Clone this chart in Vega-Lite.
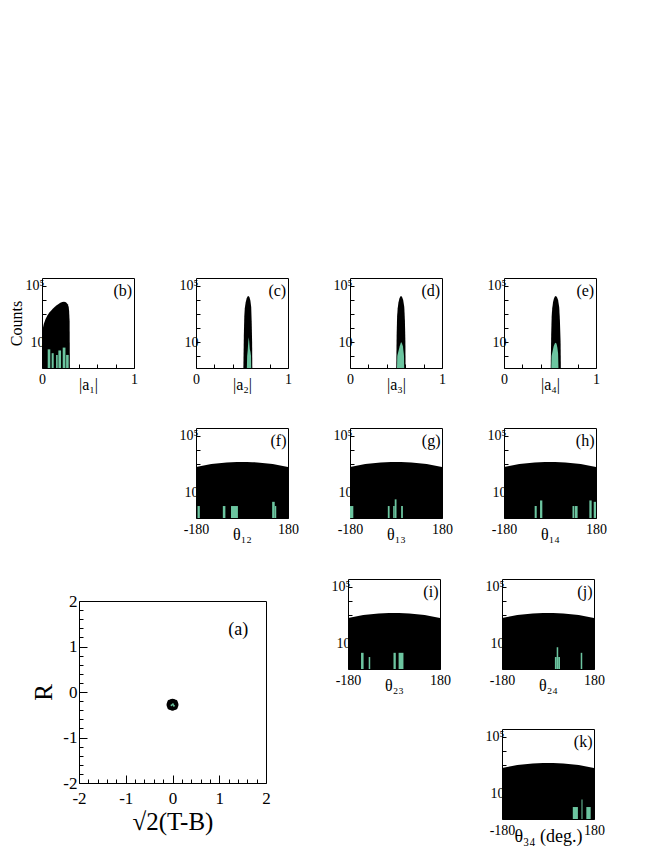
{
"$schema": "https://vega.github.io/schema/vega-lite/v6.json",
"padding": {"left": 7, "top": 277, "right": 5, "bottom": 5},
"config": {
  "font": "Liberation Serif",
  "view": {"stroke": "black", "strokeWidth": 1},
  "axis": {"domain": false, "grid": false, "tickColor": "black", "tickSize": -4, "labelColor": "black", "titleColor": "black", "labelFontSize": 14, "titleFontSize": 16, "titleFontWeight": "normal", "labelFont": "Liberation Serif", "titleFont": "Liberation Serif", "labelPadding": 2, "labelFlush": false},
  "text": {"font": "Liberation Serif", "color": "black"}
},
"datasets": {
  "blackA": [
    {"panel":"b","x":0,"n":32},{"panel":"b","x":0.01,"n":100},{"panel":"b","x":0.02,"n":200},{"panel":"b","x":0.04,"n":450},{"panel":"b","x":0.06,"n":800},{"panel":"b","x":0.08,"n":1260},{"panel":"b","x":0.1,"n":1780},{"panel":"b","x":0.12,"n":2500},{"panel":"b","x":0.14,"n":3300},{"panel":"b","x":0.16,"n":4270},{"panel":"b","x":0.18,"n":5250},{"panel":"b","x":0.2,"n":6300},{"panel":"b","x":0.22,"n":7240},{"panel":"b","x":0.24,"n":7600},{"panel":"b","x":0.26,"n":6900},{"panel":"b","x":0.28,"n":5000},{"panel":"b","x":0.29,"n":3160},{"panel":"b","x":0.295,"n":1580},{"panel":"b","x":0.3,"n":316},{"panel":"b","x":0.303,"n":0.14},
    {"panel":"c","x":0.515,"n":0.14},{"panel":"c","x":0.52,"n":30},{"panel":"c","x":0.525,"n":630},{"panel":"c","x":0.53,"n":2500},{"panel":"c","x":0.54,"n":7000},{"panel":"c","x":0.55,"n":12600},{"panel":"c","x":0.56,"n":17800},{"panel":"c","x":0.57,"n":19000},{"panel":"c","x":0.58,"n":16600},{"panel":"c","x":0.59,"n":10000},{"panel":"c","x":0.6,"n":3160},{"panel":"c","x":0.605,"n":316},{"panel":"c","x":0.61,"n":10},{"panel":"c","x":0.612,"n":0.14},
    {"panel":"d","x":0.503,"n":0.14},{"panel":"d","x":0.507,"n":30},{"panel":"d","x":0.512,"n":630},{"panel":"d","x":0.518,"n":2500},{"panel":"d","x":0.527,"n":7000},{"panel":"d","x":0.537,"n":12600},{"panel":"d","x":0.547,"n":17800},{"panel":"d","x":0.556,"n":19000},{"panel":"d","x":0.566,"n":16600},{"panel":"d","x":0.578,"n":10000},{"panel":"d","x":0.59,"n":3160},{"panel":"d","x":0.597,"n":316},{"panel":"d","x":0.602,"n":10},{"panel":"d","x":0.604,"n":0.14},
    {"panel":"e","x":0.508,"n":0.14},{"panel":"e","x":0.513,"n":30},{"panel":"e","x":0.518,"n":630},{"panel":"e","x":0.524,"n":2500},{"panel":"e","x":0.533,"n":7000},{"panel":"e","x":0.543,"n":12600},{"panel":"e","x":0.553,"n":17800},{"panel":"e","x":0.564,"n":19000},{"panel":"e","x":0.575,"n":16600},{"panel":"e","x":0.588,"n":10000},{"panel":"e","x":0.6,"n":3160},{"panel":"e","x":0.608,"n":316},{"panel":"e","x":0.615,"n":10},{"panel":"e","x":0.618,"n":0.14}
  ],
  "greenA": [
    {"panel":"c","x":0.553,"n":0.14},{"panel":"c","x":0.556,"n":1},{"panel":"c","x":0.562,"n":2.5},{"panel":"c","x":0.568,"n":10},{"panel":"c","x":0.573,"n":22},{"panel":"c","x":0.578,"n":12},{"panel":"c","x":0.585,"n":3},{"panel":"c","x":0.592,"n":2},{"panel":"c","x":0.598,"n":1},{"panel":"c","x":0.6,"n":0.14},
    {"panel":"d","x":0.511,"n":0.14},{"panel":"d","x":0.514,"n":1},{"panel":"d","x":0.525,"n":2},{"panel":"d","x":0.54,"n":5},{"panel":"d","x":0.55,"n":8},{"panel":"d","x":0.556,"n":10},{"panel":"d","x":0.565,"n":8},{"panel":"d","x":0.575,"n":5},{"panel":"d","x":0.582,"n":2},{"panel":"d","x":0.587,"n":1},{"panel":"d","x":0.589,"n":0.14},
    {"panel":"e","x":0.514,"n":0.14},{"panel":"e","x":0.517,"n":1},{"panel":"e","x":0.527,"n":2},{"panel":"e","x":0.54,"n":5},{"panel":"e","x":0.552,"n":8},{"panel":"e","x":0.56,"n":9},{"panel":"e","x":0.57,"n":8},{"panel":"e","x":0.58,"n":4},{"panel":"e","x":0.588,"n":1.5},{"panel":"e","x":0.592,"n":0.14}
  ],
  "greenBars": [
    {"panel":"b","x0":0.062,"x1":0.09,"n":3},{"panel":"b","x0":0.105,"x1":0.127,"n":1.6},{"panel":"b","x0":0.153,"x1":0.171,"n":1.2},{"panel":"b","x0":0.178,"x1":0.207,"n":2.5},{"panel":"b","x0":0.225,"x1":0.255,"n":4},{"panel":"b","x0":0.262,"x1":0.29,"n":1.2},
    {"panel":"f","x0":-174,"x1":-165,"n":1},{"panel":"f","x0":-75,"x1":-65,"n":1},{"panel":"f","x0":-43,"x1":-16,"n":1},{"panel":"f","x0":118,"x1":128,"n":2},{"panel":"f","x0":128,"x1":134,"n":1},
    {"panel":"g","x0":-180,"x1":-167,"n":1},{"panel":"g","x0":-32,"x1":-25,"n":1},{"panel":"g","x0":-11,"x1":-5,"n":1},{"panel":"g","x0":-5,"x1":2,"n":3},{"panel":"g","x0":20,"x1":27,"n":1},
    {"panel":"h","x0":-60,"x1":-52,"n":1},{"panel":"h","x0":-39,"x1":-30,"n":2.5},{"panel":"h","x0":88,"x1":95,"n":1},{"panel":"h","x0":97,"x1":108,"n":1},{"panel":"h","x0":154,"x1":163,"n":2.5},{"panel":"h","x0":171,"x1":180,"n":2},
    {"panel":"i","x0":-129,"x1":-119,"n":2},{"panel":"i","x0":-99,"x1":-93,"n":1},{"panel":"i","x0":-2,"x1":7,"n":2},{"panel":"i","x0":18,"x1":37,"n":2},
    {"panel":"j","x0":27,"x1":34,"n":1},{"panel":"j","x0":34,"x1":40,"n":5},{"panel":"j","x0":40,"x1":47,"n":1},{"panel":"j","x0":128,"x1":134,"n":2},
    {"panel":"k","x0":97,"x1":117,"n":1},{"panel":"k","x0":131,"x1":135,"n":3.5},{"panel":"k","x0":150,"x1":167,"n":1}
  ],
  "blackT": [
    {"t":-180,"n":600},{"t":-160,"n":725},{"t":-140,"n":850},{"t":-120,"n":980},{"t":-100,"n":1100},{"t":-80,"n":1200},{"t":-60,"n":1290},{"t":-40,"n":1350},{"t":-20,"n":1380},{"t":0,"n":1400},{"t":20,"n":1380},{"t":40,"n":1350},{"t":60,"n":1290},{"t":80,"n":1200},{"t":100,"n":1100},{"t":120,"n":980},{"t":140,"n":850},{"t":160,"n":725},{"t":180,"n":600}
  ],
  "scatter": [
    {"x":0,"y":-0.28,"g":"all"},{"x":0.06,"y":-0.28,"g":"all"},{"x":-0.06,"y":-0.28,"g":"all"},{"x":0,"y":-0.22,"g":"all"},{"x":0,"y":-0.34,"g":"all"},{"x":0.045,"y":-0.235,"g":"all"},{"x":-0.045,"y":-0.235,"g":"all"},{"x":0.045,"y":-0.325,"g":"all"},{"x":-0.045,"y":-0.325,"g":"all"},{"x":0.03,"y":-0.26,"g":"all"},{"x":-0.02,"y":-0.3,"g":"all"},{"x":0.02,"y":-0.31,"g":"all"},{"x":-0.03,"y":-0.25,"g":"all"},
    {"x":0.01,"y":-0.27,"g":"sel"},{"x":-0.02,"y":-0.29,"g":"sel"},{"x":0.03,"y":-0.3,"g":"sel"}
  ]
},
"vconcat": [
  {"concat": [
    {"width":92,"height":90,"resolve":{"axis":{"x":"independent"}},"layer":[
      {"data":{"name":"blackA"},"transform":[{"filter":"datum.panel=='b'"}],"mark":{"type":"area","color":"black","clip":true},
       "encoding":{"x":{"field":"x","type":"quantitative","scale":{"domain":[0,1],"nice":false,"zero":false},"axis":{"values":[0,1],"format":"d","title":"|a₁|","titlePadding":-10,"labelPadding":8,"orient":"bottom"}},
         "y":{"field":"n","type":"quantitative","scale":{"type":"log","domain":[0.14,370000],"nice":false},"axis":{"values":[1,10,100,1000,10000,100000],"labelExpr":"datum.value==100000?'10⁵':(datum.value==10?'10':'')","title":"Counts","titlePadding":1}},
         "y2":{"datum":0.14}}},
      {"data":{"name":"greenBars"},"transform":[{"filter":"datum.panel=='b'"}],"mark":{"type":"bar","color":"#6cc5a0","clip":true},
       "encoding":{"x":{"field":"x0","type":"quantitative","axis":{"values":[0.2,0.4,0.6,0.8],"labels":false,"title":null,"orient":"bottom"}},"x2":{"field":"x1"},"y":{"field":"n","type":"quantitative","title":"Counts"},"y2":{"datum":0.14}}},
      {"data":{"values":[{"label":"(b)"}]},"mark":{"type":"text","align":"right","baseline":"alphabetic","fontSize":16},
       "encoding":{"x":{"datum":0.98,"axis":null},"y":{"datum":20000},"text":{"field":"label"}}}
    ]},
    {"width":92,"height":90,"resolve":{"axis":{"x":"independent"}},"layer":[
      {"data":{"name":"blackA"},"transform":[{"filter":"datum.panel=='c'"}],"mark":{"type":"area","color":"black","clip":true},
       "encoding":{"x":{"field":"x","type":"quantitative","scale":{"domain":[0,1],"nice":false,"zero":false},"axis":{"values":[0,1],"format":"d","title":"|a₂|","titlePadding":-10,"labelPadding":8,"orient":"bottom"}},
         "y":{"field":"n","type":"quantitative","scale":{"type":"log","domain":[0.14,370000],"nice":false},"axis":{"values":[1,10,100,1000,10000,100000],"labelExpr":"datum.value==100000?'10⁵':(datum.value==10?'10':'')","title":null}},
         "y2":{"datum":0.14}}},
      {"data":{"name":"greenA"},"transform":[{"filter":"datum.panel=='c'"}],"mark":{"type":"area","color":"#6cc5a0","clip":true},
       "encoding":{"x":{"field":"x","type":"quantitative","axis":{"values":[0.2,0.4,0.6,0.8],"labels":false,"title":null,"orient":"bottom"}},"y":{"field":"n","type":"quantitative","title":null},"y2":{"datum":0.14}}},
      {"data":{"values":[{"label":"(c)"}]},"mark":{"type":"text","align":"right","baseline":"alphabetic","fontSize":16},
       "encoding":{"x":{"datum":0.98,"axis":null},"y":{"datum":20000},"text":{"field":"label"}}}
    ]},
    {"width":92,"height":90,"resolve":{"axis":{"x":"independent"}},"layer":[
      {"data":{"name":"blackA"},"transform":[{"filter":"datum.panel=='d'"}],"mark":{"type":"area","color":"black","clip":true},
       "encoding":{"x":{"field":"x","type":"quantitative","scale":{"domain":[0,1],"nice":false,"zero":false},"axis":{"values":[0,1],"format":"d","title":"|a₃|","titlePadding":-10,"labelPadding":8,"orient":"bottom"}},
         "y":{"field":"n","type":"quantitative","scale":{"type":"log","domain":[0.14,370000],"nice":false},"axis":{"values":[1,10,100,1000,10000,100000],"labelExpr":"datum.value==100000?'10⁵':(datum.value==10?'10':'')","title":null}},
         "y2":{"datum":0.14}}},
      {"data":{"name":"greenA"},"transform":[{"filter":"datum.panel=='d'"}],"mark":{"type":"area","color":"#6cc5a0","clip":true},
       "encoding":{"x":{"field":"x","type":"quantitative","axis":{"values":[0.2,0.4,0.6,0.8],"labels":false,"title":null,"orient":"bottom"}},"y":{"field":"n","type":"quantitative","title":null},"y2":{"datum":0.14}}},
      {"data":{"values":[{"label":"(d)"}]},"mark":{"type":"text","align":"right","baseline":"alphabetic","fontSize":16},
       "encoding":{"x":{"datum":0.98,"axis":null},"y":{"datum":20000},"text":{"field":"label"}}}
    ]},
    {"width":92,"height":90,"resolve":{"axis":{"x":"independent"}},"layer":[
      {"data":{"name":"blackA"},"transform":[{"filter":"datum.panel=='e'"}],"mark":{"type":"area","color":"black","clip":true},
       "encoding":{"x":{"field":"x","type":"quantitative","scale":{"domain":[0,1],"nice":false,"zero":false},"axis":{"values":[0,1],"format":"d","title":"|a₄|","titlePadding":-10,"labelPadding":8,"orient":"bottom"}},
         "y":{"field":"n","type":"quantitative","scale":{"type":"log","domain":[0.14,370000],"nice":false},"axis":{"values":[1,10,100,1000,10000,100000],"labelExpr":"datum.value==100000?'10⁵':(datum.value==10?'10':'')","title":null}},
         "y2":{"datum":0.14}}},
      {"data":{"name":"greenA"},"transform":[{"filter":"datum.panel=='e'"}],"mark":{"type":"area","color":"#6cc5a0","clip":true},
       "encoding":{"x":{"field":"x","type":"quantitative","axis":{"values":[0.2,0.4,0.6,0.8],"labels":false,"title":null,"orient":"bottom"}},"y":{"field":"n","type":"quantitative","title":null},"y2":{"datum":0.14}}},
      {"data":{"values":[{"label":"(e)"}]},"mark":{"type":"text","align":"right","baseline":"alphabetic","fontSize":16},
       "encoding":{"x":{"datum":0.98,"axis":null},"y":{"datum":20000},"text":{"field":"label"}}}
    ]},
    {"width":92,"height":90,"view":{"stroke":null},"data":{"values":[{}]},"mark":{"type":"text","text":""},"encoding":{}},
    {"width":92,"height":90,"layer":[
      {"data":{"name":"blackT"},"mark":{"type":"area","color":"black","clip":true},
       "encoding":{"x":{"field":"t","type":"quantitative","scale":{"domain":[-180,180],"nice":false,"zero":false},"axis":{"values":[-180,180],"labelExpr":"''+datum.value","title":"θ₁₂","titlePadding":-10,"labelPadding":8}},
         "y":{"field":"n","type":"quantitative","scale":{"type":"log","domain":[0.14,370000],"nice":false},"axis":{"values":[1,10,100,1000,10000,100000],"labelExpr":"datum.value==100000?'10⁵':(datum.value==10?'10':'')","title":null}},
         "y2":{"datum":0.14}}},
      {"data":{"name":"greenBars"},"transform":[{"filter":"datum.panel=='f'"}],"mark":{"type":"bar","color":"#6cc5a0","clip":true},
       "encoding":{"x":{"field":"x0","type":"quantitative","title":"θ₁₂"},"x2":{"field":"x1"},"y":{"field":"n","type":"quantitative","title":null},"y2":{"datum":0.14}}},
      {"data":{"values":[{"label":"(f)"}]},"mark":{"type":"text","align":"right","baseline":"alphabetic","fontSize":16},
       "encoding":{"x":{"datum":174},"y":{"datum":20000},"text":{"field":"label"}}}
    ]},
    {"width":92,"height":90,"layer":[
      {"data":{"name":"blackT"},"mark":{"type":"area","color":"black","clip":true},
       "encoding":{"x":{"field":"t","type":"quantitative","scale":{"domain":[-180,180],"nice":false,"zero":false},"axis":{"values":[-180,180],"labelExpr":"''+datum.value","title":"θ₁₃","titlePadding":-10,"labelPadding":8}},
         "y":{"field":"n","type":"quantitative","scale":{"type":"log","domain":[0.14,370000],"nice":false},"axis":{"values":[1,10,100,1000,10000,100000],"labelExpr":"datum.value==100000?'10⁵':(datum.value==10?'10':'')","title":null}},
         "y2":{"datum":0.14}}},
      {"data":{"name":"greenBars"},"transform":[{"filter":"datum.panel=='g'"}],"mark":{"type":"bar","color":"#6cc5a0","clip":true},
       "encoding":{"x":{"field":"x0","type":"quantitative","title":"θ₁₃"},"x2":{"field":"x1"},"y":{"field":"n","type":"quantitative","title":null},"y2":{"datum":0.14}}},
      {"data":{"values":[{"label":"(g)"}]},"mark":{"type":"text","align":"right","baseline":"alphabetic","fontSize":16},
       "encoding":{"x":{"datum":174},"y":{"datum":20000},"text":{"field":"label"}}}
    ]},
    {"width":92,"height":90,"layer":[
      {"data":{"name":"blackT"},"mark":{"type":"area","color":"black","clip":true},
       "encoding":{"x":{"field":"t","type":"quantitative","scale":{"domain":[-180,180],"nice":false,"zero":false},"axis":{"values":[-180,180],"labelExpr":"''+datum.value","title":"θ₁₄","titlePadding":-10,"labelPadding":8}},
         "y":{"field":"n","type":"quantitative","scale":{"type":"log","domain":[0.14,370000],"nice":false},"axis":{"values":[1,10,100,1000,10000,100000],"labelExpr":"datum.value==100000?'10⁵':(datum.value==10?'10':'')","title":null}},
         "y2":{"datum":0.14}}},
      {"data":{"name":"greenBars"},"transform":[{"filter":"datum.panel=='h'"}],"mark":{"type":"bar","color":"#6cc5a0","clip":true},
       "encoding":{"x":{"field":"x0","type":"quantitative","title":"θ₁₄"},"x2":{"field":"x1"},"y":{"field":"n","type":"quantitative","title":null},"y2":{"datum":0.14}}},
      {"data":{"values":[{"label":"(h)"}]},"mark":{"type":"text","align":"right","baseline":"alphabetic","fontSize":16},
       "encoding":{"x":{"datum":174},"y":{"datum":20000},"text":{"field":"label"}}}
    ]}
  ], "columns": 4, "spacing": {"row": 60, "column": 62}, "bounds": "flush"},
  {"hconcat": [
    {"hconcat": [
      {"width":1,"height":1,"view":{"stroke":null},"data":{"values":[{}]},"mark":{"type":"text","text":""},"encoding":{}},
      {"vconcat": [
        {"width":187,"height":1,"view":{"stroke":null},"data":{"values":[{}]},"mark":{"type":"text","text":""},"encoding":{}},
        {"width":187,"height":182,"resolve":{"axis":{"x":"independent","y":"independent"}},"layer":[
          {"data":{"name":"scatter"},"transform":[{"filter":"datum.g=='all'"}],"mark":{"type":"circle","color":"black","size":40,"opacity":1},
           "encoding":{"x":{"field":"x","type":"quantitative","scale":{"domain":[-2,2],"nice":false,"zero":false},"axis":{"values":[-2,-1,0,1,2],"labelExpr":"''+datum.value","tickSize":-8,"labelFontSize":17,"titleFontSize":25,"title":"√2(T-B)","labelPadding":15,"titlePadding":3,"orient":"bottom"}},
             "y":{"field":"y","type":"quantitative","scale":{"domain":[-2,2],"nice":false,"zero":false},"axis":{"values":[-2,-1,0,1,2],"labelExpr":"''+datum.value","tickSize":-8,"labelFontSize":17,"titleFontSize":25,"title":"R","labelPadding":10,"titlePadding":6,"orient":"left"}}}},
          {"data":{"name":"scatter"},"transform":[{"filter":"datum.g=='sel'"}],"mark":{"type":"circle","color":"#6cc5a0","size":4,"opacity":1},
           "encoding":{"x":{"field":"x","type":"quantitative","axis":{"values":[-1.8,-1.6,-1.4,-1.2,-0.8,-0.6,-0.4,-0.2,0.2,0.4,0.6,0.8,1.2,1.4,1.6,1.8],"labels":false,"title":null,"tickSize":-4,"orient":"bottom"}},
             "y":{"field":"y","type":"quantitative","axis":{"values":[-1.8,-1.6,-1.4,-1.2,-0.8,-0.6,-0.4,-0.2,0.2,0.4,0.6,0.8,1.2,1.4,1.6,1.8],"labels":false,"title":null,"tickSize":-4,"orient":"left"}}}},
          {"data":{"values":[{"label":"(a)"}]},"mark":{"type":"text","align":"right","baseline":"alphabetic","fontSize":18},
           "encoding":{"x":{"datum":1.62,"axis":null},"y":{"datum":1.25,"axis":null},"text":{"field":"label"}}}
        ]}
      ], "spacing": 21, "bounds": "flush"}
    ], "spacing": -12},
    {"concat": [
      {"width":92,"height":90,"layer":[
        {"data":{"name":"blackT"},"mark":{"type":"area","color":"black","clip":true},
         "encoding":{"x":{"field":"t","type":"quantitative","scale":{"domain":[-180,180],"nice":false,"zero":false},"axis":{"values":[-180,180],"labelExpr":"''+datum.value","title":"θ₂₃","titlePadding":-10,"labelPadding":8}},
           "y":{"field":"n","type":"quantitative","scale":{"type":"log","domain":[0.14,370000],"nice":false},"axis":{"values":[1,10,100,1000,10000,100000],"labelExpr":"datum.value==100000?'10⁵':(datum.value==10?'10':'')","title":null}},
           "y2":{"datum":0.14}}},
        {"data":{"name":"greenBars"},"transform":[{"filter":"datum.panel=='i'"}],"mark":{"type":"bar","color":"#6cc5a0","clip":true},
         "encoding":{"x":{"field":"x0","type":"quantitative","title":"θ₂₃"},"x2":{"field":"x1"},"y":{"field":"n","type":"quantitative","title":null},"y2":{"datum":0.14}}},
        {"data":{"values":[{"label":"(i)"}]},"mark":{"type":"text","align":"right","baseline":"alphabetic","fontSize":16},
         "encoding":{"x":{"datum":174},"y":{"datum":20000},"text":{"field":"label"}}}
      ]},
      {"width":92,"height":90,"layer":[
        {"data":{"name":"blackT"},"mark":{"type":"area","color":"black","clip":true},
         "encoding":{"x":{"field":"t","type":"quantitative","scale":{"domain":[-180,180],"nice":false,"zero":false},"axis":{"values":[-180,180],"labelExpr":"''+datum.value","title":"θ₂₄","titlePadding":-10,"labelPadding":8}},
           "y":{"field":"n","type":"quantitative","scale":{"type":"log","domain":[0.14,370000],"nice":false},"axis":{"values":[1,10,100,1000,10000,100000],"labelExpr":"datum.value==100000?'10⁵':(datum.value==10?'10':'')","title":null}},
           "y2":{"datum":0.14}}},
        {"data":{"name":"greenBars"},"transform":[{"filter":"datum.panel=='j'"}],"mark":{"type":"bar","color":"#6cc5a0","clip":true},
         "encoding":{"x":{"field":"x0","type":"quantitative","title":"θ₂₄"},"x2":{"field":"x1"},"y":{"field":"n","type":"quantitative","title":null},"y2":{"datum":0.14}}},
        {"data":{"values":[{"label":"(j)"}]},"mark":{"type":"text","align":"right","baseline":"alphabetic","fontSize":16},
         "encoding":{"x":{"datum":174},"y":{"datum":20000},"text":{"field":"label"}}}
      ]},
      {"width":92,"height":90,"view":{"stroke":null},"data":{"values":[{}]},"mark":{"type":"text","text":""},"encoding":{}},
      {"width":92,"height":90,"layer":[
        {"data":{"name":"blackT"},"mark":{"type":"area","color":"black","clip":true},
         "encoding":{"x":{"field":"t","type":"quantitative","scale":{"domain":[-180,180],"nice":false,"zero":false},"axis":{"values":[-180,180],"labelExpr":"''+datum.value","title":"θ₃₄ (deg.)","titleFontSize":18,"titlePadding":-10,"labelPadding":8}},
           "y":{"field":"n","type":"quantitative","scale":{"type":"log","domain":[0.14,370000],"nice":false},"axis":{"values":[1,10,100,1000,10000,100000],"labelExpr":"datum.value==100000?'10⁵':(datum.value==10?'10':'')","title":null}},
           "y2":{"datum":0.14}}},
        {"data":{"name":"greenBars"},"transform":[{"filter":"datum.panel=='k'"}],"mark":{"type":"bar","color":"#6cc5a0","clip":true},
         "encoding":{"x":{"field":"x0","type":"quantitative","title":"θ₃₄ (deg.)"},"x2":{"field":"x1"},"y":{"field":"n","type":"quantitative","title":null},"y2":{"datum":0.14}}},
        {"data":{"values":[{"label":"(k)"}]},"mark":{"type":"text","align":"right","baseline":"alphabetic","fontSize":16},
         "encoding":{"x":{"datum":174},"y":{"datum":20000},"text":{"field":"label"}}}
      ]}
    ], "columns": 2, "spacing": {"row": 60, "column": 62}, "bounds": "flush"}
  ], "spacing": 59}
], "spacing": 30
}
